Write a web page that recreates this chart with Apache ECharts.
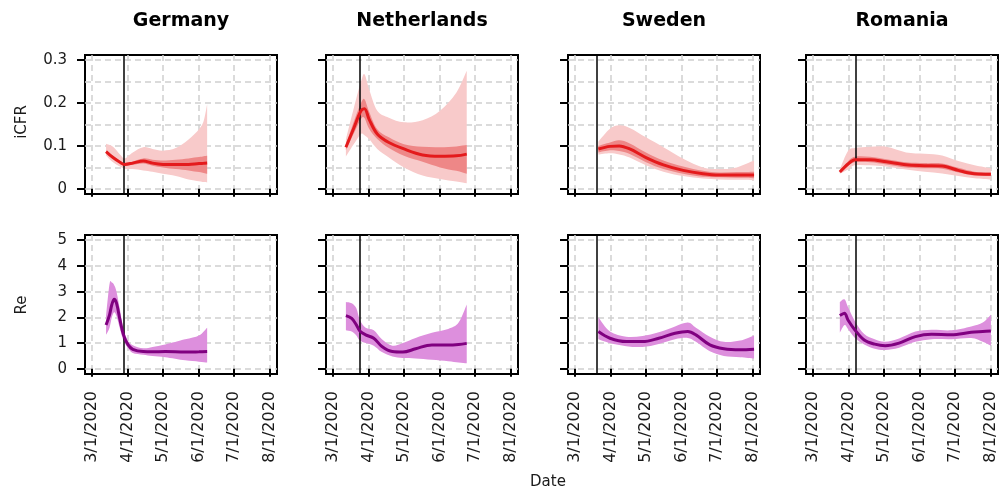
<!DOCTYPE html>
<html><head><meta charset="utf-8">
<script src="https://cdn.jsdelivr.net/npm/echarts@6/dist/echarts.min.js"></script>
<style>html,body{margin:0;padding:0;background:#fff}#c{width:1000px;height:496px}</style>
</head><body><div id="c"></div>
<script>
// ---------- data ----------
const countries = ['Germany', 'Netherlands', 'Sweden', 'Romania'];
const interventionDates = ['2020-03-28', '2020-03-24', '2020-03-20', '2020-04-07'];
const monthTicks = ['2020-03-01', '2020-04-01', '2020-05-01', '2020-06-01', '2020-07-01', '2020-08-01'];
const icfrTicks = [0, 0.1, 0.2, 0.3];
const icfrGridValues = [0, 0.05, 0.1, 0.15, 0.2, 0.25, 0.3];
const reTicks = [0, 1, 2, 3, 4, 5];

// Germany
const deCfrDates = ['2020-03-13','2020-03-19','2020-03-25','2020-03-29','2020-04-05','2020-04-14','2020-04-22','2020-05-01','2020-05-12','2020-05-23','2020-06-01','2020-06-05','2020-06-08'];
const deCfrMean = [0.087,0.073,0.062,0.057,0.060,0.065,0.060,0.057,0.0565,0.057,0.059,0.0595,0.060];
const deCfrLo50 = [0.084,0.070,0.059,0.054,0.056,0.059,0.054,0.050,0.046,0.043,0.039,0.037,0.035];
const deCfrHi50 = [0.090,0.076,0.065,0.060,0.064,0.071,0.068,0.066,0.068,0.071,0.074,0.076,0.077];
const deCfrLo95 = [0.078,0.062,0.052,0.047,0.046,0.043,0.040,0.035,0.030,0.022,0.018,0.016,0.015];
const deCfrHi95 = [0.105,0.098,0.080,0.071,0.085,0.097,0.093,0.089,0.095,0.115,0.139,0.158,0.197];
const deReDates = ['2020-03-13','2020-03-16','2020-03-18','2020-03-20','2020-03-22','2020-03-25','2020-03-28','2020-04-01','2020-04-05','2020-04-14','2020-04-22','2020-05-03','2020-05-20','2020-06-01','2020-06-08'];
const deReMean = [1.70,2.10,2.50,2.70,2.55,1.90,1.32,0.93,0.76,0.67,0.66,0.67,0.65,0.66,0.67];
const deReLo = [1.32,1.60,2.00,2.20,2.05,1.55,1.10,0.80,0.62,0.55,0.50,0.45,0.33,0.28,0.25];
const deReHi = [2.05,3.30,3.35,3.25,3.00,2.30,1.55,1.08,0.92,0.80,0.85,0.95,1.15,1.30,1.60];

// Netherlands
const nlCfrDates = ['2020-03-12','2020-03-19','2020-03-25','2020-03-28','2020-04-01','2020-04-08','2020-04-18','2020-05-01','2020-05-17','2020-06-01','2020-06-15','2020-06-24'];
const nlCfrMean = [0.097,0.143,0.182,0.187,0.162,0.128,0.108,0.093,0.079,0.076,0.077,0.081];
const nlCfrLo50 = [0.090,0.130,0.163,0.165,0.140,0.116,0.095,0.077,0.063,0.050,0.042,0.035];
const nlCfrHi50 = [0.103,0.158,0.200,0.209,0.180,0.139,0.120,0.104,0.098,0.097,0.099,0.102];
const nlCfrLo95 = [0.075,0.105,0.128,0.125,0.116,0.093,0.073,0.050,0.031,0.023,0.017,0.013];
const nlCfrHi95 = [0.115,0.190,0.250,0.267,0.232,0.182,0.166,0.155,0.160,0.182,0.224,0.275];
const nlReDates = ['2020-03-12','2020-03-17','2020-03-21','2020-03-24','2020-03-29','2020-04-05','2020-04-12','2020-04-21','2020-04-30','2020-05-11','2020-05-25','2020-06-08','2020-06-17','2020-06-24'];
const nlReMean = [2.07,1.96,1.71,1.47,1.32,1.19,0.87,0.67,0.65,0.78,0.93,0.93,0.95,0.99];
const nlReLo = [1.50,1.45,1.30,1.10,1.00,0.90,0.65,0.48,0.42,0.40,0.35,0.30,0.25,0.22];
const nlReHi = [2.60,2.55,2.35,1.90,1.60,1.50,1.15,0.90,1.00,1.20,1.40,1.55,1.80,2.50];

// Sweden
const seCfrDates = ['2020-03-21','2020-03-31','2020-04-08','2020-04-17','2020-05-01','2020-05-16','2020-06-02','2020-06-19','2020-07-03','2020-07-18','2020-08-02'];
const seCfrMean = [0.093,0.099,0.100,0.093,0.073,0.056,0.043,0.035,0.032,0.032,0.032];
const seCfrLo50 = [0.085,0.090,0.088,0.081,0.062,0.046,0.035,0.028,0.027,0.026,0.025];
const seCfrHi50 = [0.100,0.108,0.113,0.106,0.085,0.066,0.052,0.042,0.038,0.039,0.040];
const seCfrLo95 = [0.080,0.083,0.080,0.073,0.055,0.040,0.030,0.024,0.022,0.021,0.020];
const seCfrHi95 = [0.110,0.140,0.148,0.142,0.120,0.097,0.070,0.050,0.046,0.050,0.066];
const seReDates = ['2020-03-21','2020-03-31','2020-04-14','2020-04-28','2020-05-12','2020-05-26','2020-06-06','2020-06-13','2020-06-25','2020-07-07','2020-07-21','2020-08-02'];
const seReMean = [1.45,1.19,1.06,1.06,1.19,1.38,1.45,1.32,0.93,0.78,0.74,0.76];
const seReLo = [1.15,1.00,0.88,0.85,0.97,1.15,1.20,1.05,0.68,0.50,0.45,0.40];
const seReHi = [2.00,1.45,1.25,1.28,1.42,1.65,1.80,1.60,1.25,1.05,1.10,1.30];

// Romania
const roCfrDates = ['2020-03-24','2020-03-31','2020-04-06','2020-04-19','2020-05-03','2020-05-20','2020-06-05','2020-06-20','2020-07-04','2020-07-18','2020-08-01'];
const roCfrMean = [0.039,0.058,0.068,0.068,0.063,0.056,0.054,0.053,0.043,0.035,0.034];
const roCfrLo50 = [0.037,0.053,0.062,0.062,0.057,0.050,0.048,0.047,0.038,0.031,0.030];
const roCfrHi50 = [0.041,0.064,0.075,0.075,0.069,0.062,0.060,0.059,0.049,0.040,0.038];
const roCfrLo95 = [0.035,0.045,0.055,0.055,0.052,0.045,0.040,0.036,0.030,0.025,0.022];
const roCfrHi95 = [0.045,0.088,0.095,0.098,0.098,0.085,0.082,0.078,0.065,0.055,0.048];
const roReDates = ['2020-03-24','2020-03-28','2020-03-31','2020-04-06','2020-04-14','2020-04-23','2020-05-02','2020-05-14','2020-05-28','2020-06-11','2020-06-28','2020-07-15','2020-07-25','2020-08-01'];
const roReMean = [2.07,2.16,1.90,1.51,1.12,0.96,0.90,1.00,1.25,1.34,1.32,1.42,1.45,1.47];
const roReLo = [1.40,1.70,1.55,1.20,0.95,0.78,0.73,0.82,1.05,1.15,1.15,1.20,1.05,0.90];
const roReHi = [2.60,2.70,2.40,1.85,1.35,1.15,1.05,1.18,1.45,1.52,1.50,1.65,1.80,2.10];

// ---------- build ----------
const cfrSets = [
  [deCfrDates, deCfrMean, deCfrLo50, deCfrHi50, deCfrLo95, deCfrHi95],
  [nlCfrDates, nlCfrMean, nlCfrLo50, nlCfrHi50, nlCfrLo95, nlCfrHi95],
  [seCfrDates, seCfrMean, seCfrLo50, seCfrHi50, seCfrLo95, seCfrHi95],
  [roCfrDates, roCfrMean, roCfrLo50, roCfrHi50, roCfrLo95, roCfrHi95]
];
const reSets = [
  [deReDates, deReMean, deReLo, deReHi],
  [nlReDates, nlReMean, nlReLo, nlReHi],
  [seReDates, seReMean, seReLo, seReHi],
  [roReDates, roReMean, roReLo, roReHi]
];

const FONT = 'DejaVu Sans';
const DAY = 86400000;
const ts = s => { const p = s.split('-'); return new Date(+p[0], +p[1] - 1, +p[2]).getTime(); };
const monthVals = monthTicks.map(ts);
const tMin = monthVals[0] - 6.12 * DAY;
const tMax = monthVals[monthVals.length - 1] + 6.12 * DAY;

const lefts = [85, 326, 568, 806];
const W = 192, H = 139;
const tops = [55, 235];

// Catmull-Rom curve through screen points (rendering helper only)
function curvePath(pts, start) {
  let d = start ? 'M' + pts[0][0] + ' ' + pts[0][1] : 'L' + pts[0][0] + ' ' + pts[0][1];
  for (let i = 0; i < pts.length - 1; i++) {
    const p0 = pts[Math.max(i - 1, 0)], p1 = pts[i], p2 = pts[i + 1], p3 = pts[Math.min(i + 2, pts.length - 1)];
    const k = 1 / 6;
    const c1 = [p1[0] + (p2[0] - p0[0]) * k, p1[1] + (p2[1] - p0[1]) * k];
    const c2 = [p2[0] - (p3[0] - p1[0]) * k, p2[1] - (p3[1] - p1[1]) * k];
    d += ' C' + c1[0] + ' ' + c1[1] + ' ' + c2[0] + ' ' + c2[1] + ' ' + p2[0] + ' ' + p2[1];
  }
  return d;
}

const grids = [], xAxes = [], yAxes = [], series = [], graphics = [];
const gridLine = { show: true, lineStyle: { color: '#cfcfcf', width: 1.5, type: [6, 4] } };

for (let r = 0; r < 2; r++) {
  for (let c = 0; c < 4; c++) {
    const g = r * 4 + c;
    grids.push({ left: lefts[c], top: tops[r], width: W, height: H, show: true, borderColor: '#000', borderWidth: 2, backgroundColor: 'rgba(0,0,0,0)' });
    xAxes.push({
      type: 'value', gridIndex: g, min: tMin, max: tMax, scale: true,
      axisLine: { show: false },
      axisTick: { show: true, length: 8, customValues: monthVals, lineStyle: { color: '#000', width: 2 } },
      axisLabel: {
        show: r === 1, customValues: monthVals, rotate: 90, margin: 17, fontSize: 16, fontFamily: FONT, color: '#1a1a1a',
        formatter: v => { const d = new Date(v); return (d.getMonth() + 1) + '/' + d.getDate() + '/' + d.getFullYear(); }
      },
      splitLine: gridLine
    });
    const isCfr = r === 0;
    const yMin = isCfr ? -0.012 : -0.2, yMax = isCfr ? 0.312 : 5.2;
    const tickVals = isCfr ? icfrTicks : reTicks;
    const gridVals = isCfr ? icfrGridValues : reTicks;
    yAxes.push({
      type: 'value', gridIndex: g, min: yMin, max: yMax, position: 'left',
      axisLine: { show: false },
      axisTick: { show: true, length: 8, customValues: tickVals, lineStyle: { color: '#000', width: 2 } },
      axisLabel: { show: c === 0, customValues: tickVals, margin: 18, fontSize: 15, fontFamily: FONT, color: '#1a1a1a', formatter: v => String(v) },
      splitLine: { show: false }
    });
    yAxes.push({
      type: 'value', gridIndex: g, min: yMin, max: yMax, position: 'right',
      axisLine: { show: false },
      axisTick: { show: false, customValues: gridVals },
      axisLabel: { show: false },
      splitLine: gridLine
    });
    const yi = 2 * g;
    const band = (dates, lo, hi, color) => {
      const rows = dates.map((d, i) => [ts(d), lo[i], hi[i]]);
      series.push({
        type: 'custom', xAxisIndex: g, yAxisIndex: yi, silent: true, animation: false, clip: true,
        data: rows, encode: { x: 0, y: [1, 2] },
        renderItem: (params, api) => {
          if (params.dataIndex !== 0) return null;
          const up = rows.map(rw => api.coord([rw[0], rw[2]]));
          const dn = rows.map(rw => api.coord([rw[0], rw[1]])).reverse();
          const pathData = curvePath(up, true) + ' ' + curvePath(dn, false) + ' Z';
          return { type: 'path', shape: { pathData }, style: { fill: color, stroke: null } };
        }
      });
    };
    let dates, mean, lineColor;
    if (isCfr) {
      const s = cfrSets[c];
      dates = s[0]; mean = s[1]; lineColor = '#e41a1c';
      band(dates, s[4], s[5], '#f8caca');
      band(dates, s[2], s[3], '#ee8787');
    } else {
      const s = reSets[c];
      dates = s[0]; mean = s[1]; lineColor = '#800080';
      band(dates, s[2], s[3], '#dd8fdd');
    }
    series.push({
      type: 'line', xAxisIndex: g, yAxisIndex: yi, symbol: 'none', smooth: 0.35, silent: true, animation: false,
      z: 5, lineStyle: { color: lineColor, width: 3 },
      data: dates.map((d, i) => [ts(d), mean[i]]),
      markLine: { symbol: 'none', silent: true, label: { show: false }, lineStyle: { color: '#000', width: 1.5, type: 'solid' }, data: [{ xAxis: ts(interventionDates[c]) }] }
    });
  }
}

countries.forEach((name, c) => {
  graphics.push({ type: 'text', x: lefts[c] + W / 2, y: 21, style: { text: name, fontSize: 19, fontWeight: 'bold', fontFamily: FONT, fill: '#000', textAlign: 'center', textVerticalAlign: 'middle' } });
});
graphics.push({ type: 'text', x: 22, y: 122, rotation: Math.PI / 2, style: { text: 'iCFR', fontSize: 15, fontFamily: FONT, fill: '#1a1a1a', textAlign: 'center', textVerticalAlign: 'middle' } });
graphics.push({ type: 'text', x: 22, y: 305, rotation: Math.PI / 2, style: { text: 'Re', fontSize: 15, fontFamily: FONT, fill: '#1a1a1a', textAlign: 'center', textVerticalAlign: 'middle' } });
graphics.push({ type: 'text', x: 548, y: 482, style: { text: 'Date', fontSize: 15, fontFamily: FONT, fill: '#1a1a1a', textAlign: 'center', textVerticalAlign: 'middle' } });

const chart = echarts.init(document.getElementById('c'), null, { renderer: 'canvas' });
chart.setOption({
  animation: false,
  backgroundColor: '#fff',
  grid: grids, xAxis: xAxes, yAxis: yAxes, series: series, graphic: graphics
});
</script></body></html>
